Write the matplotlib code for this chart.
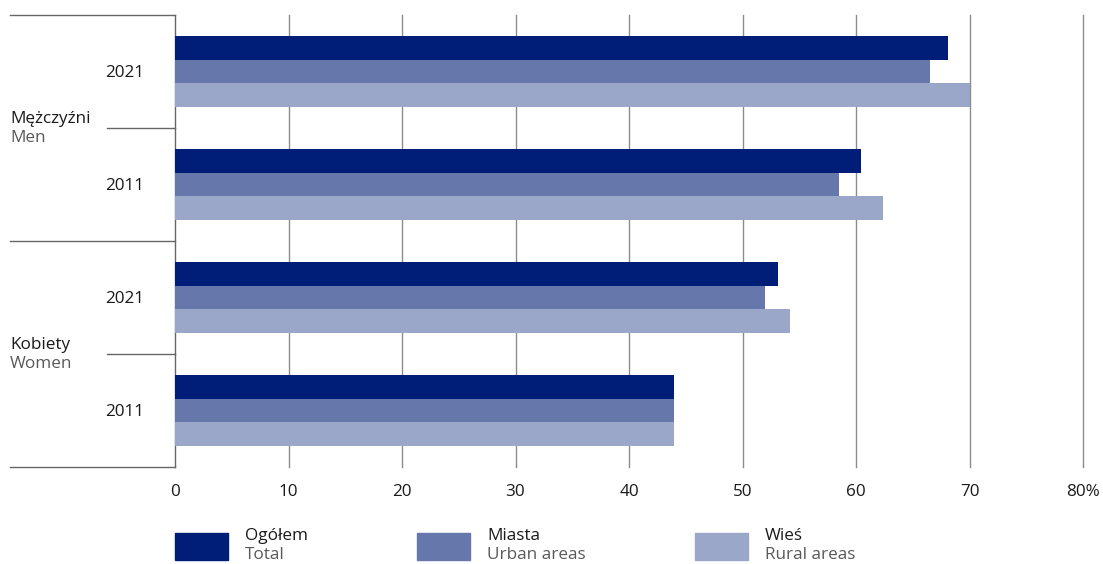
import matplotlib.pyplot as plt
from matplotlib.patches import Rectangle
from matplotlib.transforms import blended_transform_factory

plt.rcParams['font.family'] = ['Open Sans', 'DejaVu Sans']

# dane
group_pl = ['Mężczyźni', 'Kobiety']
group_en = ['Men', 'Women']
years = ['2021', '2011', '2021', '2011']
ogolem = [68.1, 60.4, 53.1, 44.0]
miasta = [66.5, 58.5, 52.0, 44.0]
wies = [70.0, 62.4, 54.2, 44.0]
series_pl = ['Ogółem', 'Miasta', 'Wieś']
series_en = ['Total', 'Urban areas', 'Rural areas']
colors = ['#001e78', '#6677ab', '#9aa7c9']
xticks = [0, 10, 20, 30, 40, 50, 60, 70, 80]
xticklabels = ['0', '10', '20', '30', '40', '50', '60', '70', '80%']

W, H = 1103, 564
fs = 12.3
fig = plt.figure(figsize=(W / 100, H / 100), dpi=100)
ax = fig.add_axes([175 / W, 1 - 467 / H, 908 / W, (467 - 15) / H])

bh = 0.208
for i in range(len(years)):
    c = i + 0.5
    for k, vals in enumerate([ogolem, miasta, wies]):
        ax.barh(c + (k - 1) * bh, vals[i], height=bh, color=colors[k], zorder=3)

ax.set_xlim(0, 80)
ax.set_ylim(4, 0)
ax.set_xticks(xticks)
ax.set_xticklabels(xticklabels)
ax.set_yticks([])
ax.tick_params(axis='x', length=0, pad=12, labelsize=fs, colors='#1a1a1a')
for x in xticks[1:]:
    ax.axvline(x, color='#8c8c8c', lw=1, zorder=1, clip_on=False)
for s in ['top', 'right', 'bottom']:
    ax.spines[s].set_visible(False)
ax.spines['left'].set_color('#666666')
ax.spines['left'].set_linewidth(1)

# linie po lewej
tr = blended_transform_factory(ax.transAxes, ax.transData)
x_far = (10 - 175) / 908
x_near = (107 - 175) / 908
for y in [0, 2, 4]:
    ax.plot([x_far, 0], [y, y], color='#666666', lw=1, transform=tr, clip_on=False)
for y in [1, 3]:
    ax.plot([x_near, 0], [y, y], color='#666666', lw=1, transform=tr, clip_on=False)

for i, yr in enumerate(years):
    ax.text((125 - 175) / 908, i + 0.5 + 0.01, yr, transform=tr, ha='center', va='center',
            fontsize=fs, color='#1a1a1a')
for g in range(2):
    ax.text(x_far, 2 * g + 1 - 0.08, group_pl[g], transform=tr, ha='left', va='center',
            fontsize=fs, color='#1a1a1a')
    ax.text(x_far, 2 * g + 1 + 0.085, group_en[g], transform=tr, ha='left', va='center',
            fontsize=fs, color='#595959')

# legenda
leg_x = [175, 417, 695]
for k in range(3):
    fig.patches.append(Rectangle((leg_x[k] / W, 1 - 560 / H), 53 / W, 27 / H,
                                 transform=fig.transFigure, color=colors[k]))
    fig.text((leg_x[k] + 70) / W, 1 - 536 / H, series_pl[k], ha='left', va='center',
             fontsize=fs, color='#1a1a1a')
    fig.text((leg_x[k] + 70) / W, 1 - 555 / H, series_en[k], ha='left', va='center',
             fontsize=fs, color='#595959')

plt.savefig('out.png', dpi=100)
